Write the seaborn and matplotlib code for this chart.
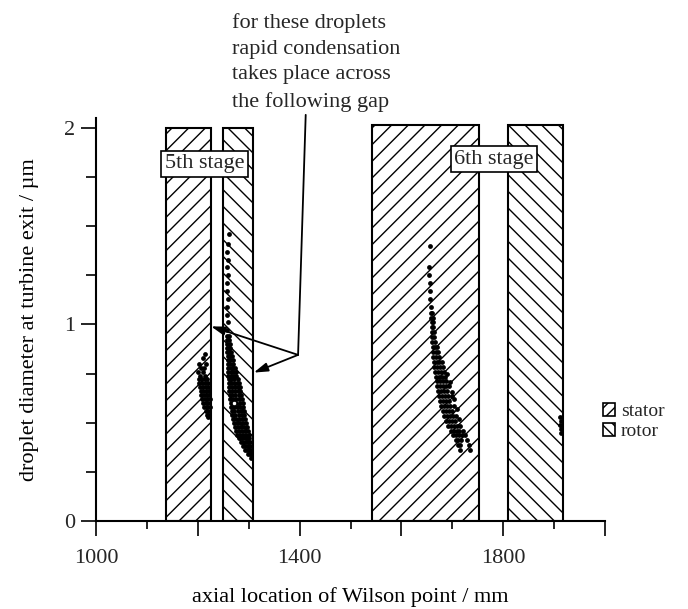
import matplotlib
matplotlib.use("Agg")
import matplotlib.pyplot as plt
import seaborn as sns
import pandas as pd
from matplotlib.patches import Patch
from matplotlib.ticker import FixedLocator, MultipleLocator

# ---------------- data ----------------
blade_kind = ["stator", "rotor", "stator", "rotor"]
blade_start = [1138, 1249, 1543, 1810]
blade_end = [1225, 1309, 1752, 1917]
blade_top = [2.0, 2.0, 2.015, 2.015]

stage_labels = ["5th stage", "6th stage"]
stage_label_x = [1213, 1782]
stage_label_y = [1.817, 1.84]

# droplet points, rows of (diameter, [axial locations])
stage5_stator_rows = [
    (0.85, [1214]), (0.83, [1211]), (0.80, [1203, 1216]), (0.78, [1207, 1213]),
    (0.76, [1201, 1210]), (0.74, [1204, 1215]),
    (0.72, [1202, 1208, 1214, 1219]), (0.70, [1203, 1209, 1215, 1220]),
    (0.68, [1204, 1210, 1216, 1221]), (0.66, [1206, 1211, 1217, 1222]),
    (0.64, [1207, 1213, 1218, 1222]), (0.62, [1209, 1214, 1219, 1223]),
    (0.60, [1211, 1216, 1221]), (0.58, [1213, 1218, 1223]),
    (0.56, [1216, 1220]), (0.54, [1219, 1222]), (0.53, [1221]),
]
stage5_rotor_rows = [
    (1.46, [1261]), (1.41, [1259]), (1.37, [1258]), (1.33, [1259]), (1.29, [1258]),
    (1.25, [1259]), (1.21, [1258]), (1.17, [1258]), (1.13, [1259]), (1.09, [1258]),
    (1.05, [1258]), (1.01, [1259]), (0.97, [1258]),
    (0.94, [1258, 1261]), (0.92, [1258, 1262]), (0.90, [1258, 1263]),
    (0.88, [1258, 1261, 1264]), (0.86, [1258, 1262, 1266]), (0.84, [1259, 1263, 1267]),
    (0.82, [1259, 1264, 1269]), (0.80, [1259, 1264, 1270]),
    (0.78, [1260, 1265, 1270, 1273]), (0.76, [1260, 1265, 1270, 1275]),
    (0.74, [1260, 1265, 1271, 1276]), (0.72, [1261, 1266, 1272, 1278]),
    (0.70, [1261, 1266, 1272, 1277, 1280]), (0.68, [1262, 1267, 1273, 1278, 1282]),
    (0.66, [1262, 1268, 1274, 1279, 1283]), (0.64, [1263, 1268, 1274, 1280, 1285]),
    (0.62, [1264, 1269, 1275, 1281, 1286]), (0.60, [1265, 1270, 1276, 1282, 1288]),
    (0.58, [1266, 1271, 1277, 1283, 1289]), (0.56, [1267, 1272, 1278, 1284, 1290]),
    (0.54, [1268, 1274, 1280, 1286, 1291]), (0.52, [1269, 1275, 1281, 1287, 1293]),
    (0.50, [1271, 1277, 1283, 1289, 1295]), (0.48, [1273, 1279, 1285, 1291, 1296]),
    (0.46, [1275, 1281, 1287, 1293, 1298]), (0.44, [1277, 1283, 1289, 1295, 1300]),
    (0.42, [1280, 1286, 1292, 1297, 1301]), (0.40, [1284, 1289, 1294, 1299, 1302]),
    (0.38, [1288, 1293, 1298, 1303]), (0.36, [1292, 1297, 1301, 1304]),
    (0.34, [1298, 1302, 1305]), (0.32, [1304]),
]
stage6_stator_rows = [
    (1.40, [1656]), (1.29, [1655]), (1.25, [1655]), (1.21, [1656]), (1.17, [1656]),
    (1.13, [1657]), (1.09, [1658]),
    (1.06, [1659, 1661]), (1.035, [1659, 1662]), (1.01, [1660, 1663]),
    (0.985, [1660, 1663]), (0.96, [1660, 1664]), (0.935, [1661, 1665]),
    (0.91, [1661, 1666]), (0.885, [1662, 1666, 1670]), (0.86, [1662, 1667, 1672]),
    (0.835, [1663, 1668, 1673]), (0.81, [1664, 1669, 1674, 1679]),
    (0.785, [1665, 1670, 1675, 1681]), (0.76, [1666, 1671, 1677, 1683]),
    (0.735, [1667, 1673, 1679, 1685]), (0.71, [1669, 1675, 1681, 1687]),
    (0.685, [1670, 1676, 1682, 1688, 1694]), (0.66, [1672, 1678, 1684, 1690]),
    (0.635, [1674, 1680, 1686, 1692, 1699]), (0.61, [1676, 1682, 1688, 1694]),
    (0.585, [1678, 1684, 1690, 1696, 1703]), (0.56, [1681, 1687, 1693, 1699]),
    (0.535, [1684, 1690, 1696, 1702, 1708]), (0.51, [1688, 1694, 1700, 1706]),
    (0.485, [1692, 1698, 1704, 1710, 1716]), (0.46, [1697, 1703, 1709, 1714, 1721]),
    (0.435, [1702, 1708, 1713, 1719, 1725]), (0.41, [1707, 1712, 1717, 1729]),
    (0.385, [1712, 1716, 1732]), (0.36, [1716, 1734]),
    (0.75, [1690]), (0.705, [1695]), (0.655, [1700]), (0.62, [1704]),
    (0.57, [1709]), (0.52, [1713]),
]
stage6_rotor_rows = [
    (0.53, [1912]), (0.51, [1913]), (0.49, [1912]), (0.47, [1913]), (0.45, [1914]),
]
open_x = [1271]
open_y = [0.60]

x_major = [1000, 1200, 1400, 1600, 1800, 2000]
x_labels = ["1000", "", "1400", "", "1800", ""]
y_major = [0, 1, 2]
y_labels = ["0", "1", "2"]

annotation_text = ("for these droplets\nrapid condensation\n"
                   "takes place across\nthe following gap")

# ---------------- build table ----------------
recs = []
for name, rows in [("s5_stator", stage5_stator_rows), ("s5_rotor", stage5_rotor_rows),
                   ("s6_stator", stage6_stator_rows), ("s6_rotor", stage6_rotor_rows)]:
    for yv, xs in rows:
        for xv in xs:
            recs.append({"x": xv, "y": yv, "group": name})
df = pd.DataFrame(recs)

# ---------------- style ----------------
sns.set_theme(style="ticks")
plt.rcParams["font.family"] = ["Liberation Serif", "DejaVu Serif"]
plt.rcParams["hatch.linewidth"] = 1.0
plt.rcParams["hatch.color"] = "black"
FS = 16

fig = plt.figure(figsize=(6.88, 6.09), dpi=100)
ax = fig.add_axes([96 / 688, 88 / 609, (605 - 96) / 688, (521 - 118) / 609])

hatch_for = {"stator": "//", "rotor": "\\\\"}
for kind, x0, x1, top in zip(blade_kind, blade_start, blade_end, blade_top):
    ax.bar(x0, top, width=x1 - x0, align="edge", facecolor="white",
           edgecolor="black", linewidth=1.5, hatch=hatch_for[kind], zorder=1)

sns.scatterplot(data=df, x="x", y="y", ax=ax, color="black", s=12,
                linewidth=0, legend=False, zorder=3)
ax.scatter(open_x, open_y, s=10, facecolor="white", edgecolor="black",
           linewidth=0.6, zorder=4)

for lab, lx, ly in zip(stage_labels, stage_label_x, stage_label_y):
    ax.text(lx, ly, lab, ha="center", va="center", fontsize=FS, zorder=5,
            bbox=dict(boxstyle="square,pad=0.15", fc="white", ec="black", lw=1.2))

# leader lines and arrows
junction = (1397, 0.845)
ax.plot([junction[0], 1412], [junction[1], 2.066], color="black", lw=1.3,
        clip_on=False, zorder=6)
for tip in [(1226, 0.99), (1310, 0.755)]:
    ax.annotate("", xy=tip, xytext=junction, zorder=6,
                arrowprops=dict(arrowstyle="-|>,head_length=0.7,head_width=0.22",
                                color="black", lw=1.3, shrinkA=0, shrinkB=0,
                                mutation_scale=12))

fig.text(232 / 688, 1 - 62.3 / 609, annotation_text, ha="left", va="center",
         fontsize=FS, linespacing=1.48)

# axes
ax.set_xlim(1000, 2000)
ax.set_ylim(0, 2.05)
ax.xaxis.set_major_locator(FixedLocator(x_major))
ax.set_xticklabels(x_labels)
ax.xaxis.set_minor_locator(MultipleLocator(100))
ax.yaxis.set_major_locator(FixedLocator(y_major))
ax.set_yticklabels(y_labels)
ax.yaxis.set_minor_locator(MultipleLocator(0.25))
ax.tick_params(axis="x", which="major", length=11, width=1.2, direction="out",
               labelsize=FS, pad=9, color="black")
ax.tick_params(axis="x", which="minor", length=6, width=1.2, direction="out",
               color="black")
ax.tick_params(axis="y", which="major", length=11, width=1.2, direction="out",
               labelsize=FS, pad=4, color="black")
ax.tick_params(axis="y", which="minor", length=7, width=1.2, direction="out",
               color="black")
for s in ["top", "right"]:
    ax.spines[s].set_visible(False)
for s in ["left", "bottom"]:
    ax.spines[s].set_linewidth(1.5)
    ax.spines[s].set_color("black")
ax.set_facecolor("white")
ax.grid(False)

ax.set_xlabel("axial location of Wilson point / mm", fontsize=FS, labelpad=14,
              color="black")
ax.set_ylabel("droplet diameter at turbine exit / µm", fontsize=FS, labelpad=18,
              color="black")

handles = [Patch(facecolor="white", edgecolor="black", hatch="///", lw=1.2),
           Patch(facecolor="white", edgecolor="black", hatch="\\\\\\", lw=1.2)]
fig.legend(handles, ["stator", "rotor"], loc="upper left",
           bbox_to_anchor=(603 / 688, 1 - 403 / 609), frameon=False,
           fontsize=14, handlelength=0.62, handleheight=0.62, handletextpad=0.3,
           labelspacing=0.15, borderpad=0, borderaxespad=0)

fig.savefig("out.png", dpi=100, facecolor="white")
